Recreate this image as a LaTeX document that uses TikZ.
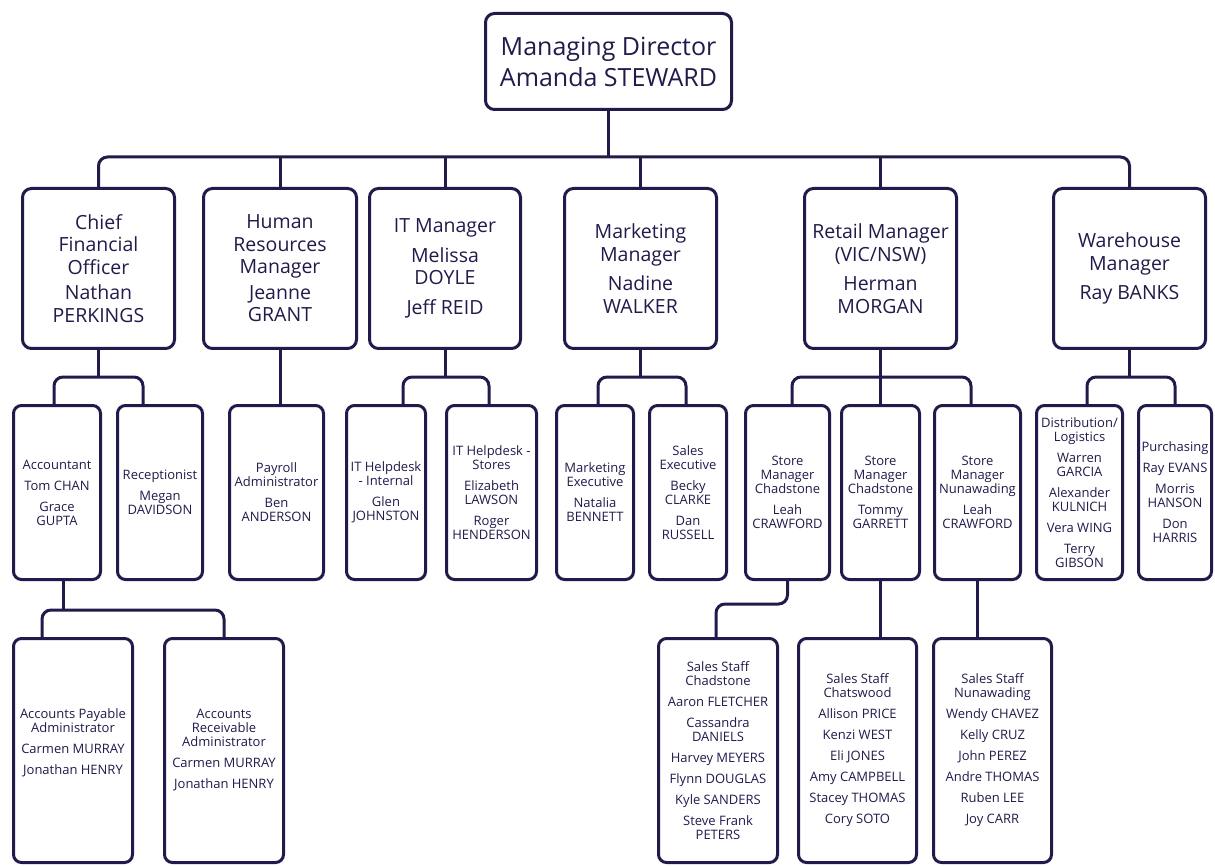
\documentclass[tikz,border=0pt]{standalone}
\usepackage{fontspec}
\setmainfont{Open Sans}
\definecolor{navy}{HTML}{211A4A}
\tikzset{
  box/.style={draw=navy, line width=3pt, rectangle, rounded corners=9pt, inner sep=0pt, align=center, text=navy},
  top/.style={box, font=\fontsize{25}{31}\selectfont},
  lvtwo/.style={box, font=\fontsize{19.5}{22.5}\selectfont},
  lvthree/.style={box, rounded corners=8pt, font=\fontsize{13}{14}\selectfont},
  link/.style={draw=navy, line width=3pt},
  elbow/.style={link, rounded corners=9pt}
}
\begin{document}
\begin{tikzpicture}[x=1pt,y=-1pt]
\useasboundingbox (0,0) rectangle (1215,866);
% level 1
\node[top, minimum width=246pt, minimum height=96pt] (md) at (608.5,61.5) {Managing Director\\Amanda STEWARD};
% level 2
\node[lvtwo, minimum width=152pt, minimum height=160pt] (cfo) at (98.5,268.5) {Chief\\Financial\\Officer\\[3pt]Nathan\\PERKINGS};
\node[lvtwo, minimum width=153pt, minimum height=160pt] (hr) at (280,268.5) {Human\\Resources\\Manager\\[3pt]Jeanne\\GRANT};
\node[lvtwo, minimum width=151pt, minimum height=160pt] (it) at (445,268.5) {IT Manager\\[7pt]Melissa\\DOYLE\\[7pt]Jeff REID};
\node[lvtwo, minimum width=152pt, minimum height=160pt] (mkt) at (640.5,268.5) {Marketing\\Manager\\[7pt]Nadine\\WALKER};
\node[lvtwo, minimum width=152pt, minimum height=160pt] (ret) at (880.5,268.5) {Retail Manager\\(VIC/NSW)\\[7pt]Herman\\MORGAN};
\node[lvtwo, minimum width=152pt, minimum height=160pt] (wh) at (1129.5,268.5) {Warehouse\\Manager\\[7pt]Ray BANKS};
% level 3
\node[lvthree, minimum width=87pt, minimum height=174pt] (acc) at (57,492.5) {Accountant\\[7pt]Tom CHAN\\[7pt]Grace\\GUPTA};
\node[lvthree, minimum width=85pt, minimum height=174pt] (rec) at (160,492.5) {Receptionist\\[7pt]Megan\\DAVIDSON};
\node[lvthree, minimum width=94pt, minimum height=174pt] (pay) at (276.5,492.5) {Payroll\\Administrator\\[7pt]Ben\\ANDERSON};
\node[lvthree, minimum width=79pt, minimum height=174pt] (iti) at (386,492.5) {IT Helpdesk\\- Internal\\[7pt]Glen\\JOHNSTON};
\node[lvthree, minimum width=90pt, minimum height=174pt] (its) at (491.5,492.5) {IT Helpdesk -\\Stores\\[7pt]Elizabeth\\LAWSON\\[7pt]Roger\\HENDERSON};
\node[lvthree, minimum width=77pt, minimum height=174pt] (mex) at (595,492.5) {Marketing\\Executive\\[7pt]Natalia\\BENNETT};
\node[lvthree, minimum width=77pt, minimum height=174pt] (sex) at (688,492.5) {Sales\\Executive\\[7pt]Becky\\CLARKE\\[7pt]Dan\\RUSSELL};
\node[lvthree, minimum width=84pt, minimum height=174pt] (smone) at (787.5,492.5) {Store\\Manager\\Chadstone\\[7pt]Leah\\CRAWFORD};
\node[lvthree, minimum width=78pt, minimum height=174pt] (smtwo) at (880.5,492.5) {Store\\Manager\\Chadstone\\[7pt]Tommy\\GARRETT};
\node[lvthree, minimum width=86pt, minimum height=174pt] (smthree) at (977.5,492.5) {Store\\Manager\\Nunawading\\[7pt]Leah\\CRAWFORD};
\node[lvthree, minimum width=86pt, minimum height=174pt] (dis) at (1079.5,492.5) {Distribution/\\Logistics\\[7pt]Warren\\GARCIA\\[7pt]Alexander\\KULNICH\\[7pt]Vera WING\\[7pt]Terry\\GIBSON};
\node[lvthree, minimum width=73pt, minimum height=174pt] (pur) at (1175,492.5) {Purchasing\\[7pt]Ray EVANS\\[7pt]Morris\\HANSON\\[7pt]Don\\HARRIS};
% level 4
\node[lvthree, minimum width=119pt, minimum height=224pt] (ap) at (73,750.5) {Accounts Payable\\Administrator\\[7pt]Carmen MURRAY\\[7pt]Jonathan HENRY\\[4pt]\mbox{}};
\node[lvthree, minimum width=119pt, minimum height=224pt] (ar) at (224,750.5) {Accounts\\Receivable\\Administrator\\[7pt]Carmen MURRAY\\[7pt]Jonathan HENRY};
\node[lvthree, minimum width=119pt, minimum height=224pt] (ssone) at (718,750.5) {Sales Staff\\Chadstone\\[7pt]Aaron FLETCHER\\[7pt]Cassandra\\DANIELS\\[7pt]Harvey MEYERS\\[7pt]Flynn DOUGLAS\\[7pt]Kyle SANDERS\\[7pt]Steve Frank\\PETERS};
\node[lvthree, minimum width=118pt, minimum height=224pt] (sstwo) at (857.5,750.5) {Sales Staff\\Chatswood\\[7pt]Allison PRICE\\[7pt]Kenzi WEST\\[7pt]Eli JONES\\[7pt]Amy CAMPBELL\\[7pt]Stacey THOMAS\\[7pt]Cory SOTO};
\node[lvthree, minimum width=118pt, minimum height=224pt] (ssthree) at (992.5,750.5) {Sales Staff\\Nunawading\\[7pt]Wendy CHAVEZ\\[7pt]Kelly CRUZ\\[7pt]John PEREZ\\[7pt]Andre THOMAS\\[7pt]Ruben LEE\\[7pt]Joy CARR};
% bus levels
\coordinate (busone) at (608.5,157);
\coordinate (Lthree) at (0,377);
\coordinate (Lfoura) at (0,610);
\coordinate (Lfourb) at (0,604);
% drop points
\coordinate (accin) at ([xshift=-3pt]acc.north);
\coordinate (recin) at ([xshift=-17pt]rec.north);
\coordinate (itiin) at ([xshift=17pt]iti.north);
\coordinate (itsin) at ([xshift=-2.5pt]its.north);
\coordinate (mexin) at ([xshift=3pt]mex.north);
\coordinate (sexin) at ([xshift=-2pt]sex.north);
\coordinate (smonein) at ([xshift=4.5pt]smone.north);
\coordinate (smthreein) at ([xshift=-6.5pt]smthree.north);
\coordinate (disin) at ([xshift=7.5pt]dis.north);
\coordinate (accout) at ([xshift=6pt]acc.south);
\coordinate (apin) at ([xshift=-31pt]ap.north);
\coordinate (ssonein) at ([xshift=-2pt]ssone.north);
% level 1 -> 2
\draw[link] (md.south) -- (busone);
\draw[elbow] (cfo.north) |- (busone) -| (wh.north);
\foreach \n in {hr,it,mkt,ret} \draw[link] (\n.north) -- (\n.north |- busone);
% level 2 -> 3
\draw[link] (cfo.south) -- (cfo.south |- Lthree);
\draw[elbow] (accin) |- (cfo.south |- Lthree) -| (recin);
\draw[link] (hr.south) -- (hr.south |- pay.north);
\draw[link] (it.south) -- (it.south |- Lthree);
\draw[elbow] (itiin) |- (it.south |- Lthree) -| (itsin);
\draw[link] (mkt.south) -- (mkt.south |- Lthree);
\draw[elbow] (mexin) |- (mkt.south |- Lthree) -| (sexin);
\draw[link] (ret.south) -- (smtwo.north);
\draw[elbow] (smonein) |- (ret.south |- Lthree) -| (smthreein);
\draw[link] (wh.south) -- (wh.south |- Lthree);
\draw[elbow] (disin) |- (wh.south |- Lthree) -| (pur.north);
% level 3 -> 4
\draw[link] (accout) -- (accout |- Lfoura);
\draw[elbow] (apin) |- (accout |- Lfoura) -| (ar.north);
\draw[elbow] (smone.south) |- (ssonein |- Lfourb) -- (ssonein);
\draw[link] (smtwo.south) -- (smtwo.south |- sstwo.north);
\draw[link] (smthree.south) -- (smthree.south |- ssthree.north);
\end{tikzpicture}
\end{document}
